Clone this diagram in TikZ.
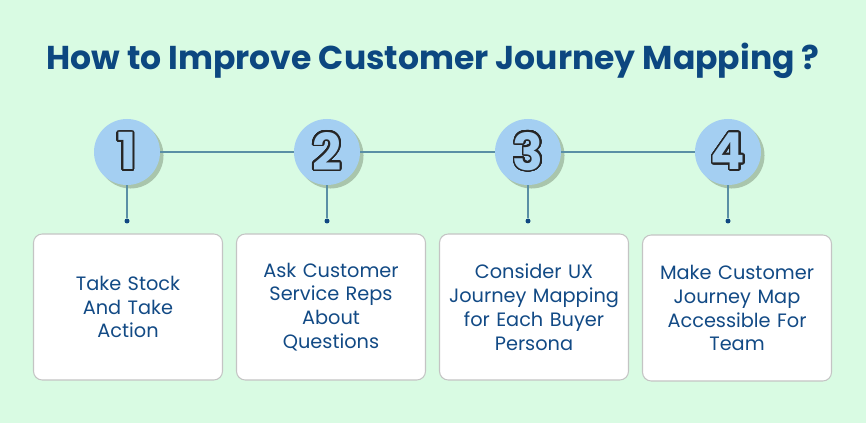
\documentclass[tikz,border=0pt]{standalone}
\usepackage{fontspec}
\setmainfont{Poppins}
\usepackage{xcolor}
\usepackage{contour}
\usetikzlibrary{shapes,arrows.meta,positioning,shadows,calc}
\definecolor{bgmint}{RGB}{217,251,227}
\definecolor{titleblue}{RGB}{12,71,128}
\definecolor{textblue}{RGB}{18,74,133}
\definecolor{circblue}{RGB}{164,207,242}
\definecolor{linesteel}{RGB}{90,143,165}
\definecolor{dotblue}{RGB}{16,72,130}
\definecolor{boxgray}{RGB}{196,196,196}
\definecolor{shadegreen}{RGB}{150,175,150}
\contourlength{0.9pt}
\contournumber{40}
\tikzset{
  stepnum/.style={circle, fill=circblue, minimum size=33*2*0.02cm, inner sep=0pt,
    drop shadow={shadow xshift=2pt, shadow yshift=-2pt, fill=shadegreen, opacity=0.7},
    font=\fontsize{29}{29}\selectfont\bfseries},
  stepbox/.style={rectangle, rounded corners=5pt,
    draw=boxgray, fill=white, line width=0.6pt,
    minimum width=189*0.02cm, minimum height=146*0.02cm,
    text width=3.4cm, align=center,
    font=\fontsize{11}{13.6}\selectfont\color{textblue}},
  pin/.style={circle, fill=dotblue, minimum size=5*0.02cm, inner sep=0pt},
  conn/.style={line width=0.9pt, color=linesteel},
  stem/.style={line width=0.7pt, color=linesteel}
}
\newcommand{\outnum}[1]{\contour{black!85}{\textcolor{circblue}{#1}}}

\begin{document}
\begin{tikzpicture}[x=0.02cm, y=0.02cm]
\fill[bgmint] (0,0) rectangle (866,423);
\useasboundingbox (0,0) rectangle (866,423);

\node[font=\fontsize{18.8}{22}\selectfont\bfseries, text=titleblue] (title) at (433,362)
  {How to Improve Customer Journey Mapping ?};

%% numbered circles
\node[stepnum] (c1) at (127,271) {\outnum{1}};
\node[stepnum] (c2) at (327,271) {\outnum{2}};
\node[stepnum] (c3) at (528,271) {\outnum{3}};
\node[stepnum] (c4) at (728,271) {\outnum{4}};

%% pins
\node[pin] (p1) at (127,202) {};
\node[pin] (p2) at (327,202) {};
\node[pin] (p3) at (528,202) {};
\node[pin] (p4) at (728,202) {};

%% text boxes
\node[stepbox] (b1) at (128,116) {Take Stock\\And Take\\Action};
\node[stepbox] (b2) at (331,116) {Ask Customer\\Service Reps\\About\\Questions};
\node[stepbox] (b3) at (534,116) {Consider UX\\Journey Mapping\\for Each Buyer\\Persona};
\node[stepbox] (b4) at (737,115) {Make Customer\\Journey Map\\Accessible For\\Team};

%% connectors
\draw[conn] (c1)--(c2);
\draw[conn] (c2)--(c3);
\draw[conn] (c3)--(c4);
\draw[stem] (c1.south)--(p1);
\draw[stem] (c2.south)--(p2);
\draw[stem] (c3.south)--(p3);
\draw[stem] (c4.south)--(p4);

\end{tikzpicture}
\end{document}
